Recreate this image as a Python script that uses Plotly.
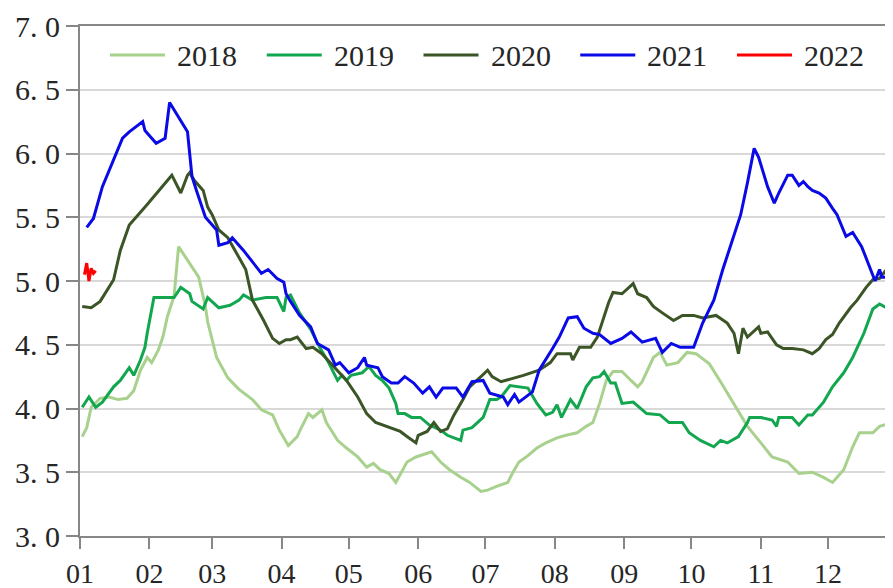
import pandas as pd
import plotly.graph_objects as go

# ---- data (day offset from 1 Jan, value) ----
days_2018 = [1, 3, 5, 9, 13, 17, 21, 24, 27, 30, 32, 35, 37, 39, 42, 44, 53, 56, 57, 59, 61, 66, 71, 77, 81, 86, 89, 93, 97, 98, 102, 104, 108, 110, 115, 119, 124, 128, 131, 134, 138, 141, 144, 146, 150, 154, 157, 161, 165, 170, 174, 179, 182, 186, 191, 193, 196, 200, 204, 208, 213, 217, 222, 226, 229, 232, 235, 238, 242, 246, 249, 251, 256, 259, 262, 267, 271, 275, 281, 286, 292, 298, 304, 309, 316, 321, 327, 332, 336, 341, 345, 348, 354, 357, 363]
vals_2018 = [3.78, 3.85, 4.01, 4.08, 4.09, 4.07, 4.08, 4.14, 4.30, 4.40, 4.36, 4.46, 4.56, 4.72, 4.88, 5.27, 5.03, 4.80, 4.68, 4.54, 4.40, 4.24, 4.15, 4.07, 3.99, 3.95, 3.83, 3.71, 3.78, 3.82, 3.96, 3.93, 3.99, 3.89, 3.75, 3.69, 3.62, 3.54, 3.57, 3.52, 3.49, 3.42, 3.52, 3.58, 3.62, 3.64, 3.66, 3.58, 3.52, 3.46, 3.42, 3.35, 3.36, 3.39, 3.42, 3.49, 3.58, 3.63, 3.69, 3.73, 3.77, 3.79, 3.81, 3.86, 3.89, 4.04, 4.22, 4.29, 4.29, 4.22, 4.17, 4.21, 4.40, 4.44, 4.34, 4.36, 4.44, 4.43, 4.35, 4.21, 4.03, 3.86, 3.73, 3.62, 3.58, 3.49, 3.50, 3.46, 3.42, 3.52, 3.70, 3.81, 3.81, 3.86, 3.89]

days_2019 = [1, 4, 7, 10, 15, 18, 22, 24, 27, 29, 30, 33, 42, 45, 49, 50, 55, 57, 62, 67, 71, 73, 77, 83, 88, 91, 92, 94, 98, 103, 107, 111, 115, 117, 119, 121, 126, 129, 132, 135, 138, 141, 142, 145, 148, 152, 156, 161, 164, 170, 171, 175, 180, 183, 186, 188, 192, 196, 200, 204, 208, 211, 213, 215, 219, 222, 226, 229, 232, 234, 237, 239, 242, 247, 253, 259, 263, 269, 272, 277, 283, 286, 289, 294, 298, 299, 304, 309, 311, 312, 318, 321, 325, 327, 332, 336, 341, 345, 350, 354, 357, 360, 363]
vals_2019 = [4.01, 4.09, 4.01, 4.05, 4.17, 4.22, 4.32, 4.26, 4.38, 4.48, 4.59, 4.87, 4.87, 4.95, 4.90, 4.84, 4.78, 4.87, 4.79, 4.81, 4.85, 4.89, 4.85, 4.87, 4.87, 4.76, 4.87, 4.89, 4.75, 4.62, 4.48, 4.36, 4.22, 4.26, 4.22, 4.26, 4.28, 4.33, 4.26, 4.22, 4.16, 4.04, 3.96, 3.96, 3.93, 3.93, 3.87, 3.83, 3.79, 3.75, 3.83, 3.85, 3.93, 4.07, 4.07, 4.09, 4.18, 4.17, 4.16, 4.04, 3.95, 3.97, 4.03, 3.93, 4.07, 4.00, 4.17, 4.24, 4.25, 4.29, 4.20, 4.20, 4.04, 4.05, 3.96, 3.95, 3.89, 3.89, 3.81, 3.75, 3.70, 3.75, 3.73, 3.78, 3.89, 3.93, 3.93, 3.91, 3.86, 3.93, 3.93, 3.87, 3.95, 3.95, 4.05, 4.17, 4.28, 4.40, 4.59, 4.78, 4.82, 4.79, 4.80]

days_2020 = [1, 5, 9, 13, 15, 18, 22, 30, 41, 45, 48, 49, 51, 55, 57, 59, 62, 66, 70, 74, 76, 77, 82, 86, 89, 92, 94, 97, 101, 104, 108, 114, 119, 124, 128, 132, 135, 140, 143, 146, 150, 151, 155, 158, 161, 164, 167, 171, 174, 179, 182, 184, 188, 198, 205, 210, 213, 219, 220, 223, 228, 231, 233, 236, 238, 242, 247, 249, 253, 256, 260, 265, 269, 274, 278, 284, 289, 292, 294, 296, 298, 300, 303, 304, 307, 311, 314, 318, 323, 327, 330, 333, 336, 339, 344, 347, 351, 354, 357, 361, 363]
vals_2020 = [4.80, 4.79, 4.84, 4.95, 5.01, 5.24, 5.44, 5.60, 5.83, 5.69, 5.83, 5.85, 5.79, 5.71, 5.58, 5.52, 5.40, 5.34, 5.22, 5.09, 4.93, 4.85, 4.69, 4.55, 4.51, 4.54, 4.54, 4.56, 4.47, 4.48, 4.43, 4.32, 4.22, 4.09, 3.96, 3.89, 3.87, 3.84, 3.82, 3.78, 3.73, 3.79, 3.82, 3.89, 3.82, 3.84, 3.95, 4.07, 4.17, 4.25, 4.30, 4.25, 4.21, 4.26, 4.30, 4.36, 4.43, 4.43, 4.38, 4.48, 4.48, 4.56, 4.67, 4.83, 4.91, 4.90, 4.98, 4.90, 4.87, 4.80, 4.75, 4.69, 4.73, 4.73, 4.71, 4.73, 4.67, 4.59, 4.43, 4.63, 4.56, 4.59, 4.64, 4.59, 4.60, 4.50, 4.47, 4.47, 4.46, 4.43, 4.47, 4.54, 4.58, 4.67, 4.79, 4.85, 4.95, 5.01, 5.02, 5.11, 5.10]

days_2021 = [3, 6, 10, 15, 19, 22, 27, 28, 29, 34, 38, 40, 48, 50, 52, 56, 61, 62, 66, 68, 73, 77, 81, 84, 88, 91, 92, 94, 98, 103, 106, 111, 114, 116, 120, 124, 127, 128, 133, 135, 139, 142, 145, 149, 153, 156, 159, 162, 168, 171, 175, 180, 183, 189, 191, 194, 196, 202, 205, 211, 214, 218, 222, 225, 229, 232, 237, 242, 246, 251, 257, 260, 264, 268, 274, 278, 283, 287, 291, 295, 298, 300, 301, 303, 305, 307, 310, 312, 316, 318, 321, 323, 325, 327, 330, 333, 336, 338, 342, 345, 349, 352, 355, 357, 358, 361, 363]
vals_2021 = [5.42, 5.49, 5.74, 5.95, 6.12, 6.17, 6.24, 6.25, 6.18, 6.08, 6.12, 6.40, 6.17, 5.82, 5.71, 5.50, 5.40, 5.28, 5.30, 5.34, 5.24, 5.15, 5.06, 5.09, 5.02, 4.99, 4.90, 4.84, 4.73, 4.64, 4.51, 4.46, 4.34, 4.36, 4.28, 4.32, 4.40, 4.34, 4.32, 4.25, 4.20, 4.20, 4.25, 4.20, 4.12, 4.17, 4.09, 4.16, 4.16, 4.09, 4.21, 4.22, 4.12, 4.09, 4.03, 4.11, 4.05, 4.13, 4.30, 4.47, 4.56, 4.71, 4.72, 4.63, 4.59, 4.58, 4.51, 4.55, 4.60, 4.52, 4.55, 4.44, 4.51, 4.48, 4.48, 4.67, 4.85, 5.09, 5.30, 5.52, 5.77, 5.97, 6.04, 5.97, 5.85, 5.74, 5.61, 5.69, 5.83, 5.83, 5.75, 5.78, 5.74, 5.71, 5.69, 5.65, 5.57, 5.52, 5.35, 5.38, 5.27, 5.13, 5.00, 5.09, 5.03, 5.03, 5.07]

days_2022 = [2, 3, 4, 5, 6, 7]
vals_2022 = [5.05, 5.14, 5.00, 5.10, 5.06, 5.08]

years = ["2018", "2019", "2020", "2021", "2022"]
colors = ["#a9d18e", "#12a74f", "#3b5526", "#0a0ae6", "#ff0000"]
series_days = [days_2018, days_2019, days_2020, days_2021, days_2022]
series_vals = [vals_2018, vals_2019, vals_2020, vals_2021, vals_2022]

y_ticks = [3.0, 3.5, 4.0, 4.5, 5.0, 5.5, 6.0, 6.5, 7.0]
y_ticktext = [f"{v:.1f}".replace(".", ". ") for v in y_ticks]

base = pd.Timestamp("2021-01-01")
font_family = "Liberation Serif"
text_color = "#262626"
axis_color = "#878787"
fsize = 30

fig = go.Figure()
for name, col, d, v in zip(years, colors, series_days, series_vals):
    x = base + pd.to_timedelta(d, unit="D")
    fig.add_trace(go.Scatter(x=x, y=v, mode="lines", name=name,
                             line=dict(color=col, width=3), showlegend=False))

# custom legend (long sample lines, like the original)
leg_x0 = 30 / 813
leg_step = 156.75 / 813
leg_len = 55 / 813
leg_gap = 10 / 813
leg_y = (510 - 29) / 510
for i, (name, col) in enumerate(zip(years, colors)):
    x0 = leg_x0 + i * leg_step
    fig.add_shape(type="line", xref="paper", yref="paper",
                  x0=x0, x1=x0 + leg_len, y0=leg_y, y1=leg_y,
                  line=dict(color=col, width=3))
    fig.add_annotation(xref="paper", yref="paper", x=x0 + leg_len + leg_gap,
                       y=leg_y, text=name, showarrow=False, xanchor="left",
                       yanchor="middle", font=dict(family=font_family, size=fsize,
                                                   color=text_color))

# page body adds an 8px margin, so the figure is sized to fit the window
fig.update_layout(
    width=885, height=580,
    margin=dict(l=72, r=0, t=18, b=52, autoexpand=False),
    plot_bgcolor="white", paper_bgcolor="white",
    font=dict(family=font_family, size=fsize, color=text_color),
)
fig.update_xaxes(
    type="date", automargin=False,
    range=[base, base + pd.Timedelta(days=363)],
    tick0=base, dtick="M1", tickformat="%m",
    ticks="outside", ticklen=11, tickwidth=2, tickcolor=axis_color,
    showline=True, linecolor=axis_color, linewidth=2, mirror=True,
    showgrid=False, zeroline=False, ticklabelstandoff=0,
    tickfont=dict(family=font_family, size=28, color=text_color),
)
fig.update_yaxes(
    range=[3, 7], tickvals=y_ticks, ticktext=y_ticktext, automargin=False,
    ticks="outside", ticklen=12, tickwidth=2, tickcolor=axis_color,
    showline=True, linecolor=axis_color, linewidth=2,
    showgrid=True, gridcolor="#d9d9d9", gridwidth=2, zeroline=False,
    ticklabelstandoff=0,
    tickfont=dict(family=font_family, size=fsize, color=text_color),
)

fig.write_html("out.html")
